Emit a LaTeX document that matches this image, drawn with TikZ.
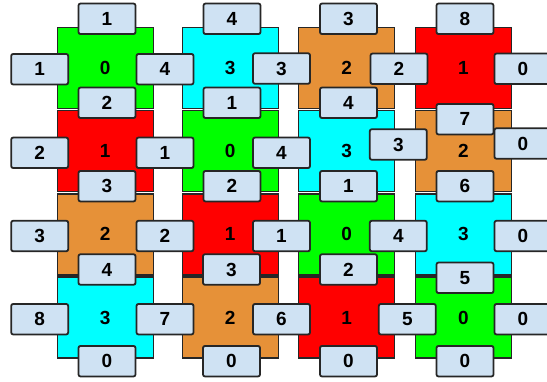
\documentclass[tikz,border=0pt]{standalone}
\usepackage{fontspec}
\setmainfont{Liberation Sans}
\definecolor{cgreen}{HTML}{00FF00}
\definecolor{ccyan}{HTML}{00FFFF}
\definecolor{corange}{HTML}{E69138}
\definecolor{cred}{HTML}{FF0000}
\definecolor{cbox}{HTML}{CFE2F3}
\definecolor{cedge}{HTML}{262626}
\begin{document}
\begin{tikzpicture}[x=1pt,y=-1pt,
  sq/.style={draw=cedge,line width=1.4pt,minimum width=96pt,minimum height=81pt,inner sep=0pt,
    font=\fontsize{19}{21}\selectfont\bfseries,text=black},
  bx/.style={draw=cedge,line width=1.8pt,fill=cbox,rounded corners=2pt,minimum width=57pt,minimum height=30.5pt,inner sep=0pt,
    font=\fontsize{19}{21}\selectfont\bfseries,text=black}]
\useasboundingbox (0,0) rectangle (547,381);
\clip (0,0) rectangle (547,381);
% squares row 1
\node[sq,fill=cgreen]  (s11) at (105.2,67.7) {0};
\node[sq,fill=ccyan]   (s12) at (230.2,67.7) {3};
\node[sq,fill=corange] (s13) at (346.7,67.7) {2};
\node[sq,fill=cred]    (s14) at (463.3,67.7) {1};
% row 2
\node[sq,fill=cred]    (s21) at (105.2,150.8) {1};
\node[sq,fill=cgreen]  (s22) at (230.2,150.8) {0};
\node[sq,fill=ccyan]   (s23) at (346.7,150.8) {3};
\node[sq,fill=corange] (s24) at (463.3,150.8) {2};
% row 3
\node[sq,fill=corange] (s31) at (105.2,234.3) {2};
\node[sq,fill=cred]    (s32) at (230.2,234.3) {1};
\node[sq,fill=cgreen]  (s33) at (346.7,234.3) {0};
\node[sq,fill=ccyan]   (s34) at (463.3,234.3) {3};
% row 4
\node[sq,fill=ccyan]   (s41) at (105.2,317.5) {3};
\node[sq,fill=corange] (s42) at (230.2,317.5) {2};
\node[sq,fill=cred]    (s43) at (346.7,317.5) {1};
\node[sq,fill=cgreen]  (s44) at (463.3,317.5) {0};
% top boxes
\node[bx] (t1) at (107,18.8) {1};
\node[bx] (t2) at (232,18.8) {4};
\node[bx] (t3) at (348.5,18.8) {3};
\node[bx] (t4) at (465,18.8) {8};
% row 1 side
\node[bx] (a0) at (39.7,69.2) {1};
\node[bx] (a1) at (165,69.2) {4};
\node[bx] (a2) at (281.5,68.5) {3};
\node[bx] (a3) at (399,68.8) {2};
\node[bx] (a4) at (523,68.8) {0};
% between rows 1-2
\node[bx] (b1) at (107,102.8) {2};
\node[bx] (b2) at (232,102.8) {1};
\node[bx] (b3) at (348.5,102.8) {4};
\node[bx] (b4) at (465,119.2) {7};
% row 2 side
\node[bx] (c0) at (39.7,152.8) {2};
\node[bx] (c1) at (165,152.8) {1};
\node[bx] (c2) at (281.5,152.8) {4};
\node[bx] (c3) at (398.3,144.5) {3};
\node[bx] (c4) at (523,143.5) {0};
% between rows 2-3
\node[bx] (d1) at (107,186.2) {3};
\node[bx] (d2) at (232,186.2) {2};
\node[bx] (d3) at (348.5,186.2) {1};
\node[bx] (d4) at (465,186.2) {6};
% row 3 side
\node[bx] (e0) at (39.7,236) {3};
\node[bx] (e1) at (165,236) {2};
\node[bx] (e2) at (281.5,236) {1};
\node[bx] (e3) at (398.3,236) {4};
\node[bx] (e4) at (523,236) {0};
% between rows 3-4
\node[bx] (f1) at (107,269.5) {4};
\node[bx] (f2) at (231.5,269.5) {3};
\node[bx] (f3) at (348.5,269.5) {2};
\node[bx] (f4) at (465,277.8) {5};
% row 4 side
\node[bx] (g0) at (39.7,319.2) {8};
\node[bx] (g1) at (165,319.2) {7};
\node[bx] (g2) at (281.5,319.2) {6};
\node[bx] (g3) at (407.3,319.2) {5};
\node[bx] (g4) at (523,319.2) {0};
% bottom boxes
\node[bx] (h1) at (107,361.2) {0};
\node[bx] (h2) at (231.5,361.2) {0};
\node[bx] (h3) at (348.5,361.2) {0};
\node[bx] (h4) at (465,361.2) {0};
\end{tikzpicture}
\end{document}
